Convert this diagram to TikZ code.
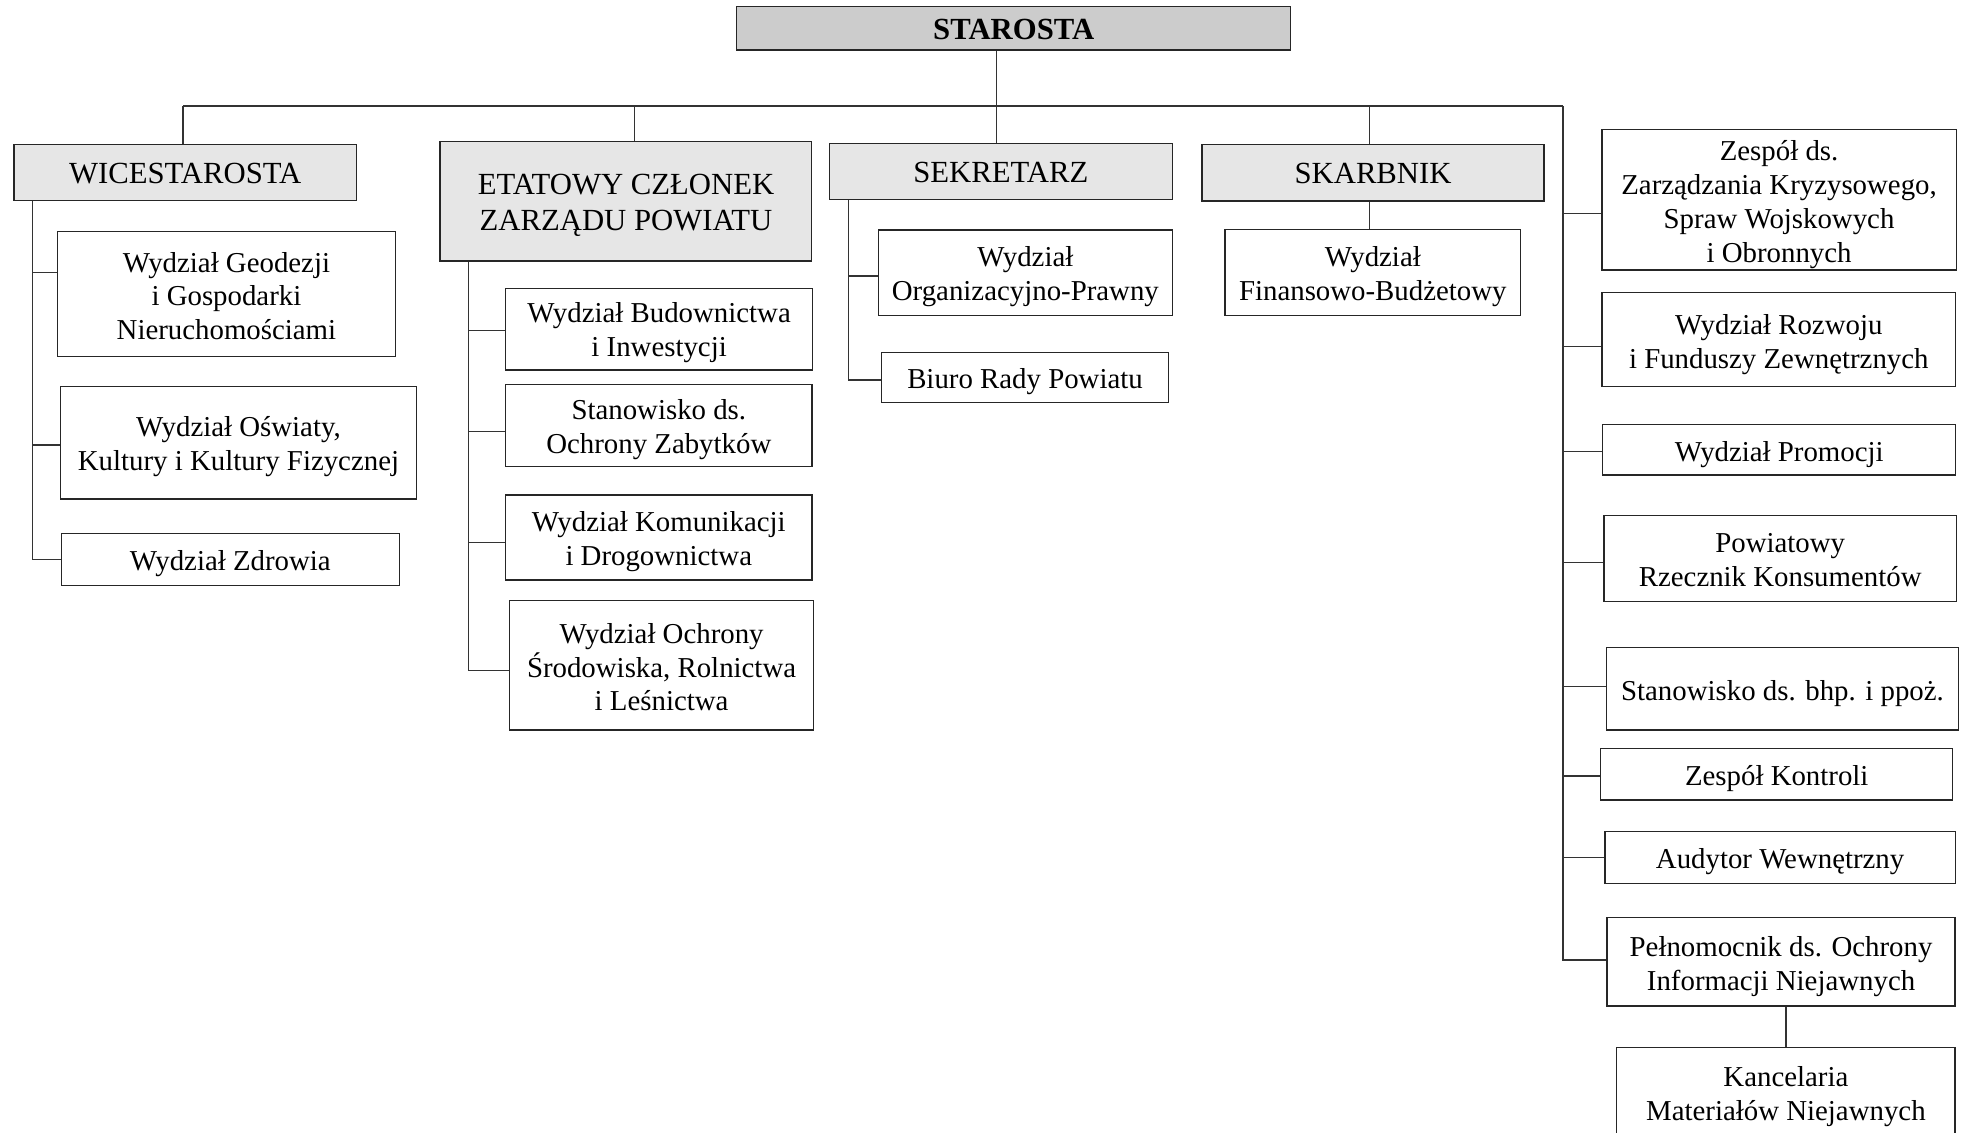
\documentclass[tikz,border=0pt]{standalone}
\usepackage{fontspec}
\setmainfont{Liberation Serif}
\definecolor{topgray}{RGB}{204,204,204}
\definecolor{headgray}{RGB}{230,230,230}
\newcommand\orgbox[8][-3pt]{\node[#3, minimum width={(#6-#4)*1pt}, minimum height={(#7-#5)*1pt}] (#2) at ({(#4+#6)/2},{(#5+#7)/2}) {};
  \node[#3 text] (#2-t) at ([yshift=#1]#2.center) {#8};}
\begin{document}
\begin{tikzpicture}[x=1pt,y=-1pt,
  box/.style={draw=black!85, line width=1pt, fill=white, inner sep=0pt},
  head/.style={box, fill=headgray},
  top/.style={box, fill=topgray},
  box text/.style={align=center, inner sep=0pt, font=\fontsize{23}{27}\selectfont},
  head text/.style={align=center, inner sep=0pt, font=\fontsize{24.5}{29}\selectfont},
  top text/.style={align=center, inner sep=0pt, font=\fontsize{24.5}{29}\selectfont\bfseries},
  conn/.style={draw=black!80, line width=1pt}]
\useasboundingbox (0,0) rectangle (1568,903);
\clip (0,0) rectangle (1568,903);
% top
\orgbox[-1pt]{starosta}{top}{587.5}{5.3}{1029.5}{39.9}{STAROSTA}
% heads
\orgbox[-1pt]{wice}{head}{11.2}{115.1}{284.3}{159.8}{WICESTAROSTA}
\orgbox[-3.5pt]{etat}{head}{351}{112.7}{647.5}{208.2}{ETATOWY CZŁONEK\\ZARZĄDU POWIATU}
\orgbox[-1pt]{sekr}{head}{661.3}{114.6}{935.2}{159}{SEKRETARZ}
\orgbox[-1pt]{skarb}{head}{958.7}{115.1}{1231.5}{160.3}{SKARBNIK}
% wicestarosta
\orgbox[-1.5pt]{geo}{box}{45.8}{184.8}{315.4}{284.5}{Wydział Geodezji\\i Gospodarki\\Nieruchomościami}
\orgbox{osw}{box}{48.4}{308.4}{332}{398}{Wydział Oświaty,\\Kultury i Kultury Fizycznej}
\orgbox{zdr}{box}{48.8}{425.6}{318.6}{467.1}{Wydział Zdrowia}
% etatowy
\orgbox{bud}{box}{403.4}{230}{648}{295.1}{Wydział Budownictwa\\i Inwestycji}
\orgbox{zab}{box}{403.3}{306.5}{647.6}{372.2}{Stanowisko ds.\\Ochrony Zabytków}
\orgbox{kom}{box}{403.3}{394.8}{647.6}{462.6}{Wydział Komunikacji\\i Drogownictwa}
\orgbox[-1.5pt]{och}{box}{406.4}{479}{648.9}{582.2}{Wydział Ochrony\\Środowiska, Rolnictwa\\i Leśnictwa}
% sekretarz
\orgbox{org}{box}{700.4}{183.4}{935.2}{251.8}{Wydział\\Organizacyjno-Prawny}
\orgbox{bio}{box}{703}{281}{932}{321}{Biuro Rady Powiatu}
% skarbnik
\orgbox{fin}{box}{977}{182.9}{1212.8}{251.8}{Wydział\\Finansowo-Budżetowy}
% right column
\orgbox[-4pt]{zes}{box}{1277.6}{103.1}{1560.2}{215.3}{Zespół ds.\\Zarządzania Kryzysowego,\\Spraw Wojskowych\\i Obronnych}
\orgbox[-4pt]{roz}{box}{1277.6}{233.1}{1559.8}{308}{Wydział Rozwoju\\i Funduszy Zewnętrznych}
\orgbox[-4pt]{pro}{box}{1278.2}{338.4}{1559.8}{378.9}{Wydział Promocji}
\orgbox[-1pt]{rze}{box}{1279.3}{411}{1560.3}{479.9}{Powiatowy\\Rzecznik Konsumentów}
\orgbox[-3.5pt]{bhp}{box}{1281.4}{516.6}{1561.9}{582.2}{Stanowisko ds. bhp. i ppoż.}
\orgbox[-3.5pt]{kon}{box}{1276.7}{596.8}{1557.4}{638}{Zespół Kontroli}
\orgbox[-3.5pt]{aud}{box}{1280}{663.3}{1559.5}{704.5}{Audytor Wewnętrzny}
\orgbox[-4pt]{pel}{box}{1281.7}{731.9}{1559.3}{802.3}{Pełnomocnik ds. Ochrony\\Informacji Niejawnych}
\orgbox[-3pt]{kan}{box}{1289.4}{835.3}{1559.3}{908}{Kancelaria\\Materiałów Niejawnych}
% attachment points
\coordinate (geoC) at ([yshift=17.6pt]geo.west);
\coordinate (oswC) at ([yshift=-1.7pt]osw.west);
\coordinate (budC) at ([yshift=-1.1pt]bud.west);
\coordinate (zabC) at ([yshift=-4.9pt]zab.west);
\coordinate (komC) at ([yshift=-3.9pt]kom.west);
\coordinate (ochC) at ([yshift=-4.3pt]och.west);
\coordinate (orgC) at ([yshift=-2.5pt]org.west);
\coordinate (bioC) at ([yshift=-2pt]bio.west);
\coordinate (zesC) at ([yshift=-10.9pt]zes.west);
\coordinate (rozC) at ([yshift=-6pt]roz.west);
\coordinate (proC) at ([yshift=-1.6pt]pro.west);
\coordinate (rzeC) at ([yshift=-3.3pt]rze.west);
\coordinate (bhpC) at ([yshift=1.7pt]bhp.west);
\coordinate (konC) at ([yshift=-1.5pt]kon.west);
\coordinate (pelC) at ([yshift=1.4pt]pel.west);
% bus
\coordinate (busL) at (146,84.5);
\coordinate (busR) at (1246.5,84.5);
\coordinate (sx) at (795,0);
\coordinate (ex) at (506,0);
\coordinate (kx) at (1092.4,0);
\draw[conn] (busL) -- (busR);
\draw[conn] (starosta.south -| sx) -- (sekr.north -| sx);
\draw[conn] (wice.north -| busL) -- (busL);
\draw[conn] (etat.north -| ex) -- (ex |- busL);
\draw[conn] (skarb.north -| kx) -- (kx |- busL);
\draw[conn] (skarb.south -| kx) -- (fin.north -| kx);
% wicestarosta spine
\coordinate (wx) at (25.9,0);
\draw[conn] (wice.south -| wx) |- (zdr.west);
\draw[conn] (wx |- geoC) -- (geoC);
\draw[conn] (wx |- oswC) -- (oswC);
% etatowy spine
\coordinate (tx) at (373.5,0);
\draw[conn] (etat.south -| tx) |- (ochC);
\draw[conn] (tx |- budC) -- (budC);
\draw[conn] (tx |- zabC) -- (zabC);
\draw[conn] (tx |- komC) -- (komC);
% sekretarz spine
\coordinate (rx) at (676.5,0);
\draw[conn] (sekr.south -| rx) |- (bioC);
\draw[conn] (rx |- orgC) -- (orgC);
% right spine
\draw[conn] (busR) |- (pelC);
\draw[conn] (busR |- zesC) -- (zesC);
\draw[conn] (busR |- rozC) -- (rozC);
\draw[conn] (busR |- proC) -- (proC);
\draw[conn] (busR |- rzeC) -- (rzeC);
\draw[conn] (busR |- bhpC) -- (bhpC);
\draw[conn] (busR |- konC) -- (konC);
\draw[conn] (busR |- aud.west) -- (aud.west);
\draw[conn] (kan.north |- pel.south) -- (kan.north);
\end{tikzpicture}
\end{document}
